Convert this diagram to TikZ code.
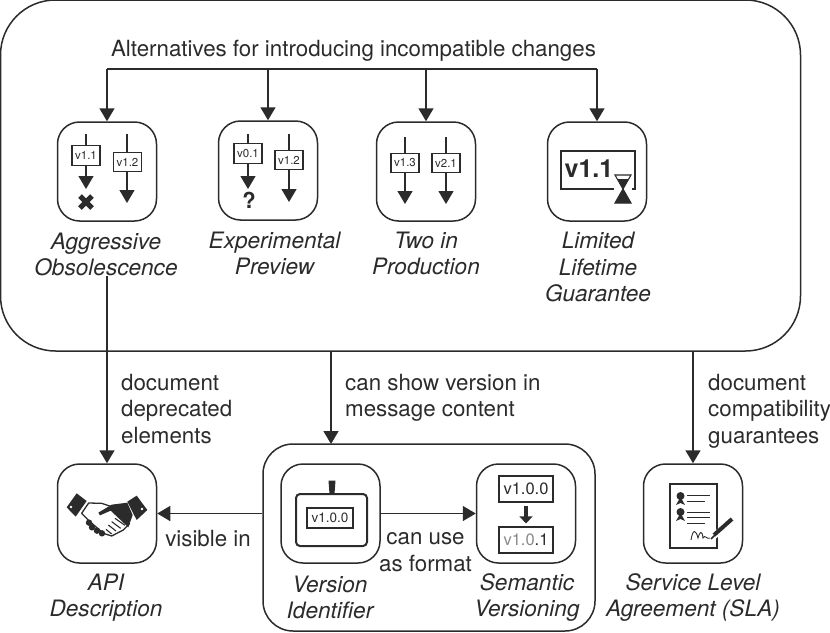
\documentclass[tikz,border=0pt]{standalone}
\usepackage{fontspec}
\setmainfont{TeX Gyre Heros}
\usetikzlibrary{arrows.meta,positioning,calc}
\definecolor{ink}{HTML}{2B2B2B}
\definecolor{soft}{HTML}{8A8A8A}
\tikzset{
  conn/.style={draw=ink,line width=1.5pt,-{Triangle[length=13pt,width=15pt]}},
  busline/.style={draw=ink,line width=1.5pt},
  outerbox/.style={draw=ink,line width=1.5pt,rounded corners=#1,inner sep=0pt},
  iconbox/.style={draw=ink,line width=1.5pt,rounded corners=22pt,minimum width=99pt,minimum height=99pt,inner sep=0pt},
  lbl/.style={text=ink,font=\fontsize{22.3}{26.5}\selectfont,align=left,inner sep=0pt},
  nametext/.style={text=ink,font=\fontsize{22.6}{26.5}\selectfont\itshape,align=center,inner sep=0pt},
  ver/.style={draw=ink,line width=1.2pt,fill=white,text=ink,font=\fontsize{11.5}{13}\selectfont,minimum width=28pt,minimum height=19.5pt,inner sep=0pt},
  bigver/.style={draw=ink,line width=1.2pt,fill=white,text=ink,font=\fontsize{16.5}{18}\selectfont,minimum width=54pt,minimum height=26pt,inner sep=0pt},
  mini/.style={draw=ink,line width=1.2pt,-{Triangle[length=13pt,width=15pt]}},
}
\begin{document}
\begin{tikzpicture}[x=1pt,y=-1pt]
\useasboundingbox (0,0) rectangle (830,632);
\clip (0,0) rectangle (830,632);
% containers
\node[outerbox=55pt,minimum width=800pt,minimum height=351pt] (alt) at (400.5,175.5) {};
\node[outerbox=30pt,minimum width=332pt,minimum height=187pt] (vbox) at (429,537.5) {};
% title
\node[lbl] (title) at (353.5,51) {Alternatives for introducing incompatible changes};
% icon boxes
\node[iconbox] (ag) at (107,171.5) {};
\node[iconbox] (ep) at (268,170.5) {};
\node[iconbox] (tp) at (426,171.5) {};
\node[iconbox] (ll) at (597,171.5) {};
\node[iconbox] (api) at (107,513.5) {};
\node[iconbox] (vi) at (330.5,513.5) {};
\node[iconbox] (sv) at (526,513.5) {};
\node[iconbox] (sla) at (693,513.5) {};
% names
\node[nametext] (agn) at (106,254.5) {Aggressive\\Obsolescence};
\node[nametext] (epn) at (274.5,253.5) {Experimental\\Preview};
\node[nametext] (tpn) at (426,253.5) {Two in\\Production};
\node[nametext] (lln) at (598,267) {Limited\\Lifetime\\Guarantee};
\node[nametext] (apin) at (106,597.5) {API\\Description};
\node[nametext] (vin) at (330,597.5) {Version\\Identifier};
\node[nametext] (svn) at (527,597.5) {Semantic\\Versioning};
\node[nametext] (slan) at (693,597.5) {Service Level\\Agreement (SLA)};
% bus
\coordinate (busl) at (ag.north |- 0,69);
\coordinate (busr) at (ll.north |- 0,69);
\draw[busline] (busl) -- (busr);
\draw[conn] (busl) -- (ag.north);
\draw[conn] (ep.north |- busl) -- (ep.north);
\draw[conn] (tp.north |- busl) -- (tp.north);
\draw[conn] (busr) -- (ll.north);
% connectors
\draw[conn] (agn.south -| api.north) -- (api.north);
\draw[conn] (alt.south -| 331,0) -- (331,444);
\draw[conn] (alt.south -| sla.north) -- (sla.north);
\draw[conn] (vbox.west |- api.east) -- (api.east);
\draw[conn] (vi.east) -- (sv.west);
% labels
\node[lbl,anchor=north west] (l1) at (121,374) {document\\deprecated\\elements};
\node[lbl,anchor=north west] (l2) at (345,374) {can show version in\\message content};
\node[lbl,anchor=north west] (l3) at (708,374) {document\\compatibility\\guarantees};
\node[lbl] (l4) at (208,539) {visible in};
\node[lbl,align=center] (l5) at (425.5,552) {can use\\as format};
% aggressive glyph
\draw[mini] (86,134) -- (86,189);
\node[ver] (a1) at (86,155.5) {v1.1};
\draw[mini] (127,134) -- (127,203);
\node[ver] (a2) at (127.5,162) {v1.2};
\draw[ink,line width=5pt] (80,196) -- (92,208) (92,196) -- (80,208);
% preview glyph
\draw[mini] (248,134) -- (248,189);
\node[ver] (p1) at (248,153.5) {v0.1};
\draw[mini] (289,134) -- (289,202);
\node[ver] (p2) at (289,160) {v1.2};
\node[text=ink,font=\fontsize{22}{24}\bfseries\selectfont,inner sep=0pt] (pq) at (249,200) {?};
% two in production glyph
\draw[mini] (405,137) -- (405,204);
\node[ver] (t1) at (405,163) {v1.3};
\draw[mini] (446,137) -- (446,204);
\node[ver] (t2) at (446,163) {v2.1};
% limited lifetime glyph
\node[draw=ink,line width=1.6pt,minimum width=74pt,minimum height=38pt,inner sep=0pt] (lb) at (598,170) {};
\node[text=ink,font=\fontsize{25}{27}\bfseries\selectfont,inner sep=0pt] (lt) at (589,169) {v1.1};
\fill[white] (614,172) rectangle (632,205);
\draw[ink,line width=1.1pt,fill=white] (615,175) -- (631,175) -- (623,189) -- (631,203) -- (615,203) -- (623,189) -- cycle;
\fill[ink] (617.5,179) -- (628.5,179) -- (623,189) -- cycle;
\fill[ink] (623,189) -- (631,203) -- (615,203) -- cycle;
% handshake
\begin{scope}[shift={(40,450)},x=0.3333pt,y=-0.3333pt]
\fill[ink] (80,172) -- (110,130) -- (140,153) -- (107,200) -- cycle;
\fill[white] (93,171) circle (1.3pt);
\fill[ink] (262,155) -- (290,137) -- (322,180) -- (290,210) -- cycle;
\fill[white] (306,177) circle (1.3pt);
\draw[ink,line width=1.3pt,fill=white,line join=round] (125,190) -- (146,159) -- (185,160) -- (215,170) -- (268,222) -- (250,240) -- (215,258) -- (190,250) -- (150,215) -- cycle;
\fill[ink] (262,158) -- (215,164) -- (175,188) -- (180,196) -- (212,182) -- (265,232) -- (278,195) -- cycle;
\foreach \p in {(147,218),(156,232),(171,242),(186,250)} \fill[ink] \p circle (3.2pt);
\draw[ink,line width=1.1pt] (205,225) -- (228,243) (215,215) -- (242,235) (225,205) -- (255,226) (198,238) -- (215,252);
\end{scope}
% version identifier glyph
\node[draw=ink,line width=2pt,rounded corners=4pt,minimum width=71pt,minimum height=52pt,inner sep=0pt] (vo) at (331.5,520) {};
\fill[ink] (328.5,480.5) -- (335.5,480.5) -- (334.5,494) -- (329.5,494) -- cycle;
\node[draw=ink,line width=1.1pt,text=ink,font=\fontsize{13.5}{15}\selectfont,minimum width=46pt,minimum height=20pt,inner sep=0pt] (vv) at (330,518) {v1.0.0};
% semantic glyph
\node[bigver] (s1) at (526,489) {v1.0.0};
\node[bigver] (s2) at (526,540) {\textcolor{soft}{v1.0}.1};
\draw[ink,line width=4pt,-{Triangle[length=7pt,width=13pt]}] ($(s1.south)+(0,3)$) -- ($(s2.north)+(0,-3)$);
% contract glyph
\node[draw=ink,line width=1.2pt,minimum width=47pt,minimum height=64pt,inner sep=0pt] (doc) at (693.5,516) {};
\foreach \y in {0,16} {
  \fill[ink] (680.5,496+\y) circle (4pt);
  \fill[ink] (680.5,497+\y) -- (676,505+\y) -- (680.5,503+\y) -- (685,505+\y) -- cycle;
}
\draw[ink,line width=1pt] (687,495) -- (710,495) (687,501) -- (705,501) (687,512) -- (710,512) (687,517.5) -- (710,517.5) (687,523) -- (705,523);
\draw[ink,line width=0.9pt] (691,540) .. controls (693,528) and (696,530) .. (698,538) .. controls (700,531) and (702,530) .. (703,538) .. controls (705,534) and (707,540) .. (710,538);
\draw[white,line width=6pt] (711,539) -- (734,518);
\draw[ink,line width=4pt] (714,535) -- (732,519);
\draw[ink,line width=1.5pt] (711,539) -- (715,535);
\end{tikzpicture}
\end{document}
